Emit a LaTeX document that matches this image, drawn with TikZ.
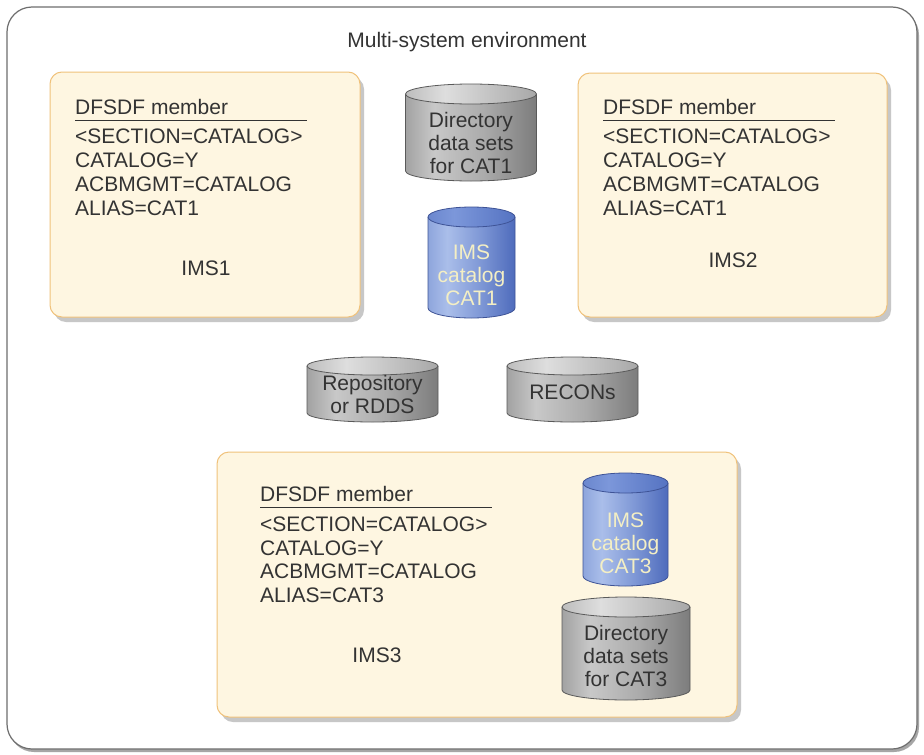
\documentclass[tikz,border=0pt]{standalone}
\usepackage{fontspec}
\setmainfont{Liberation Sans}
\usetikzlibrary{shadows}
\definecolor{boxfill}{HTML}{FEF6E1}
\definecolor{boxline}{HTML}{F0C27B}
\definecolor{txt}{HTML}{333333}
\definecolor{frameline}{HTML}{6E6E6E}
\definecolor{bluetxt}{HTML}{F4EFC4}
\definecolor{gA}{HTML}{A2A2A2}
\definecolor{gB}{HTML}{C8C8C8}
\definecolor{gC}{HTML}{ABABAB}
\definecolor{gD}{HTML}{7C7C7C}
\definecolor{gtA}{HTML}{BDBDBD}
\definecolor{gtB}{HTML}{DEDEDE}
\definecolor{gtC}{HTML}{A8A8A8}
\definecolor{bA}{HTML}{8EA5DC}
\definecolor{bB}{HTML}{AABEEA}
\definecolor{bC}{HTML}{7F98D6}
\definecolor{bD}{HTML}{4E6BBC}
\definecolor{btA}{HTML}{6B87CE}
\definecolor{btB}{HTML}{7C97DA}
\definecolor{btC}{HTML}{5573C2}
\definecolor{grayline}{HTML}{5A5A5A}
\definecolor{blueline}{HTML}{3E5396}
\pgfdeclarehorizontalshading{graybody}{100bp}{color(0bp)=(gA); color(25bp)=(gA); color(36bp)=(gB); color(55bp)=(gC); color(75bp)=(gD); color(100bp)=(gD)}
\pgfdeclarehorizontalshading{graytop}{100bp}{color(0bp)=(gtA); color(25bp)=(gtA); color(40bp)=(gtB); color(75bp)=(gtC); color(100bp)=(gtC)}
\pgfdeclarehorizontalshading{bluebody}{100bp}{color(0bp)=(bA); color(25bp)=(bA); color(36bp)=(bB); color(55bp)=(bC); color(75bp)=(bD); color(100bp)=(bD)}
\pgfdeclarehorizontalshading{bluetop}{100bp}{color(0bp)=(btA); color(25bp)=(btA); color(40bp)=(btB); color(75bp)=(btC); color(100bp)=(btC)}
% #1 cx, #2 y of top ellipse centre, #3 y of bottom ellipse centre, #4 half width, #5 y radius, #6 kind
\newcommand\dbcyl[6]{%
  \shade[shading=#6body] ({#1-#4},{-#2}) -- ({#1-#4},{-#3})
    arc[start angle=180,end angle=360,x radius=#4pt,y radius=#5pt] -- ({#1+#4},{-#2}) -- cycle;
  \draw[#6line, line width=0.8pt] ({#1-#4},{-#2}) -- ({#1-#4},{-#3})
    arc[start angle=180,end angle=360,x radius=#4pt,y radius=#5pt] -- ({#1+#4},{-#2});
  \shadedraw[shading=#6top, draw=#6line, line width=0.8pt] (#1,{-#2}) ellipse[x radius=#4pt, y radius=#5pt];
}
\tikzset{
  imsbox/.style={draw=boxline, fill=boxfill, line width=1pt, rounded corners=12pt,
    inner sep=0pt, outer sep=0pt,
    drop shadow={shadow xshift=4pt, shadow yshift=-5pt, fill=black!22, opacity=1}},
  body/.style={font=\fontsize{21}{23}\selectfont, text=txt, inner sep=0pt},
  line/.style={body, anchor=base west},
  cyltext/.style={body, align=center},
  bluetext/.style={cyltext, text=bluetxt},
  rulec/.style={txt, line width=1pt}
}
\begin{document}
\begin{tikzpicture}[x=1pt,y=1pt]
\useasboundingbox (0,0) rectangle (924,-755);
\fill[white] (0,0) rectangle (924,-755);
% outer frame
\fill[black!35, rounded corners=25pt] (9,-10) rectangle (919,-752);
\draw[frameline, line width=1.2pt, fill=white, rounded corners=25pt] (7,-7) rectangle (917,-749);
\node[body] (title) at (467,-42) {Multi-system environment};

% IMS1
\node[imsbox, minimum width=310pt, minimum height=245pt] (ims1) at (205,-194.5) {};
\node[line] (h1) at (75,-114.5) {DFSDF member};
\draw[rulec] (75,-120) -- (307,-120);
\node[line] (a1) at (75,-143.5) {<SECTION=CATALOG>};
\node[line] (b1) at (75,-167.5) {CATALOG=Y};
\node[line] (c1) at (75,-191.5) {ACBMGMT=CATALOG};
\node[line] (d1) at (75,-215.5) {ALIAS=CAT1};
\node[body] (n1) at (206,-268) {IMS1};

% IMS2
\node[imsbox, minimum width=309pt, minimum height=244pt] (ims2) at (732.5,-195) {};
\node[line] (h2) at (603,-114.5) {DFSDF member};
\draw[rulec] (603,-120) -- (835,-120);
\node[line] (a2) at (603,-143.5) {<SECTION=CATALOG>};
\node[line] (b2) at (603,-167.5) {CATALOG=Y};
\node[line] (c2) at (603,-191.5) {ACBMGMT=CATALOG};
\node[line] (d2) at (603,-215.5) {ALIAS=CAT1};
\node[body] (n2) at (733,-260) {IMS2};

% IMS3
\node[imsbox, minimum width=520pt, minimum height=265pt] (ims3) at (477,-584.5) {};
\node[line] (h3) at (260,-501.5) {DFSDF member};
\draw[rulec] (260,-507) -- (492,-507);
\node[line] (a3) at (260,-531.5) {<SECTION=CATALOG>};
\node[line] (b3) at (260,-555) {CATALOG=Y};
\node[line] (c3) at (260,-578.5) {ACBMGMT=CATALOG};
\node[line] (d3) at (260,-602) {ALIAS=CAT3};
\node[body] (n3) at (377,-655) {IMS3};

% cylinders
\dbcyl{471}{94}{171}{65.5}{10}{gray}
\node[cyltext] (dir1) at (471,-143) {Directory\\data sets\\for CAT1};
\dbcyl{471.5}{217}{308}{43.5}{10}{blue}
\node[bluetext] (cat1) at (471.5,-275) {IMS\\catalog\\CAT1};
\dbcyl{372.5}{366}{413}{65.5}{9}{gray}
\node[cyltext] (repo) at (372.5,-394) {Repository\\or RDDS};
\dbcyl{572.5}{366}{413}{65.5}{9}{gray}
\node[cyltext] (recon) at (572.5,-392) {RECONs};
\dbcyl{625.5}{483}{576}{42.5}{10}{blue}
\node[bluetext] (cat3) at (625.5,-543) {IMS\\catalog\\CAT3};
\dbcyl{626}{607}{690}{64}{10}{gray}
\node[cyltext] (dir3) at (626,-656) {Directory\\data sets\\for CAT3};
\end{tikzpicture}
\end{document}
